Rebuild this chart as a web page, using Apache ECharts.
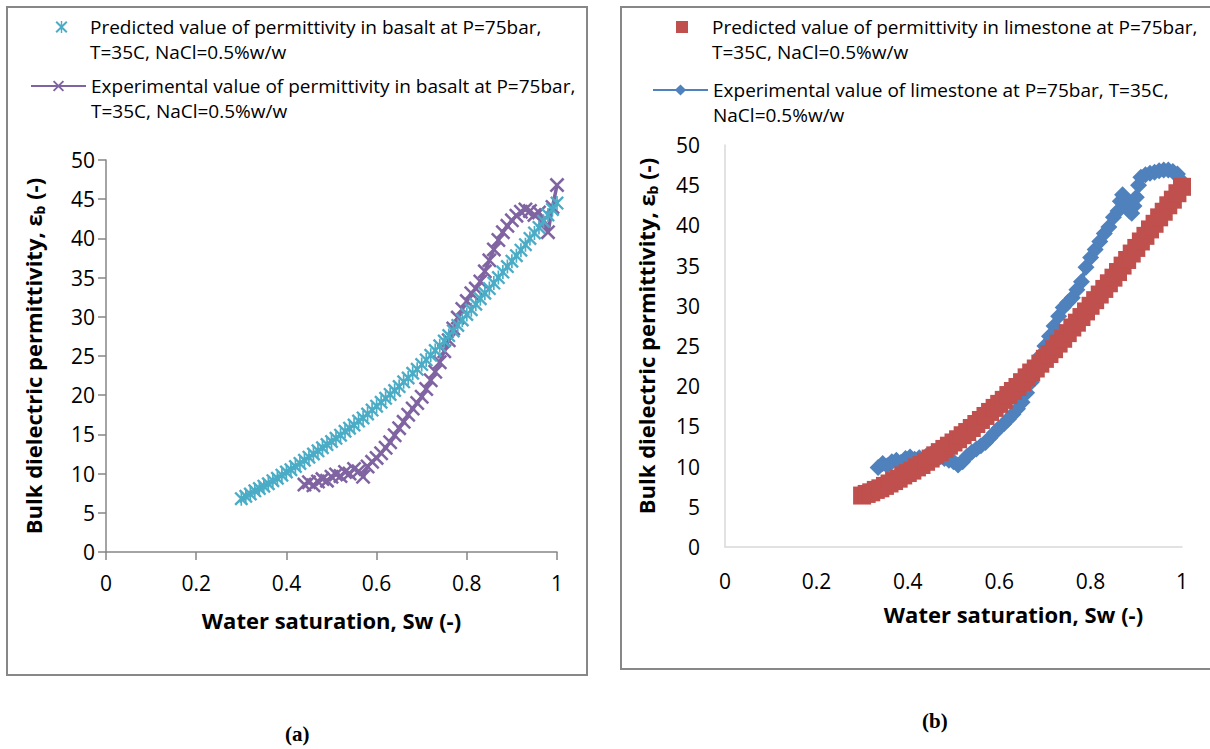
<!DOCTYPE html>
<html>
<head>
<meta charset="utf-8">
<script src="https://cdn.jsdelivr.net/npm/echarts@6.0.0/dist/echarts.min.js"></script>
<style>
  html, body { margin: 0; padding: 0; background: #fff; }
  #chart { width: 1210px; height: 749px; }
</style>
</head>
<body>
<div id="chart"></div>
<script>
// ---- data ----
const swRange = [0, 1, 0.2];
const epsRange = [0, 50, 5];

// (a) basalt
const basaltPredSw = [0.30,0.31,0.32,0.33,0.34,0.35,0.36,0.37,0.38,0.39,0.40,0.41,0.42,0.43,0.44,0.45,0.46,0.47,0.48,0.49,0.50,0.51,0.52,0.53,0.54,0.55,0.56,0.57,0.58,0.59,0.60,0.61,0.62,0.63,0.64,0.65,0.66,0.67,0.68,0.69,0.70,0.71,0.72,0.73,0.74,0.75,0.76,0.77,0.78,0.79,0.80,0.81,0.82,0.83,0.84,0.85,0.86,0.87,0.88,0.89,0.90,0.91,0.92,0.93,0.94,0.95,0.96,0.97,0.98,0.99,1.00];
const basaltPred = [6.8,7.1,7.4,7.8,8.1,8.4,8.7,9.1,9.4,9.8,10.2,10.5,10.9,11.3,11.7,12.1,12.5,12.9,13.3,13.7,14.1,14.5,14.9,15.4,15.8,16.2,16.7,17.1,17.6,18.1,18.6,19.1,19.6,20.1,20.6,21.1,21.7,22.2,22.8,23.3,23.9,24.5,25.1,25.7,26.3,26.9,27.6,28.2,28.9,29.6,30.3,30.9,31.6,32.3,33.0,33.6,34.3,35.0,35.7,36.4,37.1,37.8,38.5,39.2,40.0,40.7,41.4,42.2,43.0,43.7,44.5];
const basaltExpSw = [0.44,0.45,0.46,0.47,0.48,0.49,0.50,0.51,0.52,0.53,0.54,0.55,0.56,0.57,0.58,0.59,0.60,0.61,0.62,0.63,0.64,0.65,0.66,0.67,0.68,0.69,0.70,0.71,0.72,0.73,0.74,0.75,0.76,0.77,0.78,0.79,0.80,0.81,0.82,0.83,0.84,0.85,0.86,0.87,0.88,0.89,0.90,0.91,0.92,0.93,0.94,0.95,0.96,0.97,0.98,0.99,1.00];
const basaltExp = [8.6,8.9,8.5,9.0,9.3,9.1,9.6,9.9,9.7,10.2,10.0,10.6,10.3,9.6,10.9,11.5,12.0,12.6,13.3,14.0,14.9,15.8,16.6,17.5,18.3,19.0,19.8,20.8,21.9,23.0,24.2,25.6,27.0,28.5,29.9,31.0,32.0,33.0,33.6,34.5,35.8,37.2,38.6,39.8,40.8,41.6,42.3,42.9,43.4,43.7,43.5,43.0,43.3,42.3,40.8,44.0,46.8];

// (b) limestone
const limePredSw = [0.30,0.31,0.32,0.33,0.34,0.35,0.36,0.37,0.38,0.39,0.40,0.41,0.42,0.43,0.44,0.45,0.46,0.47,0.48,0.49,0.50,0.51,0.52,0.53,0.54,0.55,0.56,0.57,0.58,0.59,0.60,0.61,0.62,0.63,0.64,0.65,0.66,0.67,0.68,0.69,0.70,0.71,0.72,0.73,0.74,0.75,0.76,0.77,0.78,0.79,0.80,0.81,0.82,0.83,0.84,0.85,0.86,0.87,0.88,0.89,0.90,0.91,0.92,0.93,0.94,0.95,0.96,0.97,0.98,0.99,1.00];
const limePred = [6.4,6.6,6.8,7.1,7.3,7.6,7.9,8.2,8.5,8.9,9.2,9.5,9.9,10.2,10.6,11.0,11.4,11.8,12.2,12.6,13.0,13.4,13.9,14.3,14.8,15.3,15.8,16.3,16.8,17.3,17.8,18.3,18.9,19.4,19.9,20.5,21.1,21.7,22.2,22.8,23.4,24.0,24.6,25.3,25.9,26.6,27.3,27.9,28.6,29.3,30.0,30.7,31.4,32.1,32.8,33.5,34.2,35.0,35.7,36.5,37.2,38.0,38.7,39.5,40.2,41.0,41.7,42.5,43.2,44.0,44.8];
const limeExpSw = [0.335,0.345,0.355,0.365,0.375,0.385,0.395,0.405,0.415,0.425,0.44,0.45,0.46,0.47,0.48,0.49,0.50,0.51,0.52,0.53,0.54,0.55,0.56,0.57,0.58,0.59,0.60,0.61,0.62,0.63,0.64,0.65,0.66,0.67,0.68,0.69,0.70,0.71,0.72,0.73,0.74,0.75,0.76,0.77,0.78,0.79,0.80,0.81,0.82,0.83,0.84,0.85,0.86,0.865,0.87,0.875,0.88,0.885,0.89,0.895,0.90,0.905,0.91,0.92,0.93,0.94,0.95,0.96,0.97,0.98,0.99,1.00];
const limeExp = [9.9,10.4,10.1,10.6,10.8,10.5,11.0,11.2,10.9,11.1,11.3,11.5,11.4,11.2,11.0,10.8,10.6,10.2,10.6,11.3,11.8,12.2,12.6,13.0,13.6,14.2,14.8,15.3,15.9,16.5,17.2,18.0,19.2,20.5,22.0,23.8,25.0,26.2,27.5,28.7,29.8,30.4,31.0,32.0,33.0,34.8,36.0,37.0,38.0,39.0,39.8,41.0,41.8,43.0,43.8,43.0,42.5,41.8,41.5,42.4,43.5,45.0,46.0,46.3,46.5,46.6,46.8,46.9,46.9,46.7,46.4,45.5];

const legendNames = [
  'Predicted value of permittivity in basalt at P=75bar,\nT=35C, NaCl=0.5%w/w',
  'Experimental value of permittivity in basalt at P=75bar,\nT=35C, NaCl=0.5%w/w',
  'Predicted value of permittivity in limestone at P=75bar,\nT=35C, NaCl=0.5%w/w',
  'Experimental value of limestone at P=75bar, T=35C,\nNaCl=0.5%w/w'
];
const panelTags = ['(a)', '(b)'];

// ---- helpers ----
const zip = (xs, ys) => xs.map((x, i) => [x, ys[i]]);
const FONT = 'Open Sans';
const starPath = 'path://M0,1.2L1.2,0L10,8.8L8.8,10ZM8.8,0L10,1.2L1.2,10L0,8.8ZM4.4,0L5.6,0L5.6,10L4.4,10Z';
const crossPath = 'path://M0,1.2L1.2,0L10,8.8L8.8,10ZM8.8,0L10,1.2L1.2,10L0,8.8Z';
// legend icons padded to the full legend item box so they sit where the reference has them
const starIcon = 'path://M0,0L0,0ZM55,14L55,14ZM25.5,2.4L26.9,1L37.5,11.6L36.1,13ZM36.1,1L37.5,2.4L26.9,13L25.5,11.6ZM30.8,1L32.2,1L32.2,13L30.8,13Z';
const squareIcon = 'path://M0,0L0,0ZM55,14L55,14ZM24,1L36,1L36,13L24,13Z';
const LH = 25;

const yName = 'Bulk dielectric permittivity, ε{s|b} (-)';
const nameStyle = {
  fontFamily: FONT, fontWeight: 'bold', fontSize: 22, color: '#000', lineHeight: 26,
  rich: { s: { fontFamily: FONT, fontWeight: 'bold', fontSize: 14, lineHeight: 14, verticalAlign: 'bottom', color: '#000' } }
};
const tickLabel = { fontFamily: FONT, fontSize: 21, color: '#000' };

function xAxisOf(gi, framed, gap, pad) {
  return {
    type: 'value', gridIndex: gi, min: swRange[0], max: swRange[1], interval: swRange[2],
    splitLine: { show: false },
    axisLine: { show: true, lineStyle: { color: framed ? '#868686' : '#d9d9d9', width: 1.5 } },
    axisTick: { show: framed, length: 8, lineStyle: { color: '#868686', width: 1.5 } },
    axisLabel: Object.assign({ margin: framed ? 20 : 23 }, tickLabel),
    name: 'Water saturation, Sw (-)', nameLocation: 'middle', nameGap: gap,
    nameTextStyle: Object.assign({}, nameStyle, { padding: pad })
  };
}
function yAxisOf(gi, framed, gap, pad) {
  return {
    type: 'value', gridIndex: gi, min: epsRange[0], max: epsRange[1], interval: epsRange[2],
    splitLine: { show: false },
    axisLine: { show: true, lineStyle: { color: framed ? '#868686' : '#d9d9d9', width: 1.5 } },
    axisTick: { show: framed, length: 8, lineStyle: { color: '#868686', width: 1.5 } },
    axisLabel: Object.assign({ margin: framed ? 11 : 25 }, tickLabel),
    name: yName, nameLocation: 'middle', nameGap: gap, nameRotate: 90,
    nameTextStyle: Object.assign({}, nameStyle, { padding: pad })
  };
}
// blank first line keeps the icon level with the first line of text
function legendOf(name, icon, left, firstLineY) {
  const item = icon ? { name: name, icon: icon } : { name: name };
  return {
    data: [item], left: left, top: firstLineY - 1.5 * LH, orient: 'vertical', padding: 0,
    itemWidth: 55, itemHeight: 14, selectedMode: false,
    formatter: n => ' \n' + n,
    textStyle: { fontFamily: FONT, fontSize: 19, color: '#000', lineHeight: LH }
  };
}

const chart = echarts.init(document.getElementById('chart'), null, { renderer: 'svg' });

chart.setOption({
  backgroundColor: '#fff',
  animation: false,
  grid: [
    { left: 106, top: 160, width: 451, height: 392 },
    { left: 725, top: 145, width: 457, height: 402 }
  ],
  xAxis: [xAxisOf(0, true, 55, [0, 0, 0, 0]), xAxisOf(1, false, 54, [0, 0, 0, 120])],
  yAxis: [yAxisOf(0, true, 60, [0, 0, 0, 0]), yAxisOf(1, false, 66, [0, 0, 0, 20])],
  legend: [
    legendOf(legendNames[0], starIcon, 30, 27),
    legendOf(legendNames[1], null, 30, 86),
    legendOf(legendNames[2], squareIcon, 652, 27),
    legendOf(legendNames[3], null, 652, 90)
  ],
  graphic: [
    { type: 'rect', silent: true, shape: { x: 7, y: 7, width: 580, height: 668 }, style: { fill: 'none', stroke: '#878787', lineWidth: 2 } },
    { type: 'rect', silent: true, shape: { x: 621, y: 7, width: 600, height: 662 }, style: { fill: 'none', stroke: '#878787', lineWidth: 2 } },
    { type: 'text', left: 285, top: 723, style: { text: panelTags[0], font: 'bold 21px "Liberation Serif"', fill: '#000' } },
    { type: 'text', left: 922, top: 710, style: { text: panelTags[1], font: 'bold 21px "Liberation Serif"', fill: '#000' } }
  ],
  series: [
    {
      name: legendNames[0], type: 'scatter', xAxisIndex: 0, yAxisIndex: 0, z: 3,
      data: zip(basaltPredSw, basaltPred), symbol: starPath, symbolSize: 14,
      itemStyle: { color: '#4bacc6', opacity: 1 }
    },
    {
      name: legendNames[1], type: 'line', xAxisIndex: 0, yAxisIndex: 0, z: 2,
      data: zip(basaltExpSw, basaltExp), symbol: crossPath, symbolSize: 15, showAllSymbol: true,
      lineStyle: { color: '#8064a2', width: 3.5 }, itemStyle: { color: '#8064a2' }
    },
    {
      name: legendNames[2], type: 'scatter', xAxisIndex: 1, yAxisIndex: 1, z: 3,
      data: zip(limePredSw, limePred), symbol: 'rect', symbolSize: 18,
      itemStyle: { color: '#c0504d', opacity: 1 }
    },
    {
      name: legendNames[3], type: 'line', xAxisIndex: 1, yAxisIndex: 1, z: 2,
      data: zip(limeExpSw, limeExp), symbol: 'diamond', symbolSize: 17, showAllSymbol: true,
      lineStyle: { color: '#4f81bd', width: 4 }, itemStyle: { color: '#4f81bd' }
    }
  ]
});
</script>
</body>
</html>
